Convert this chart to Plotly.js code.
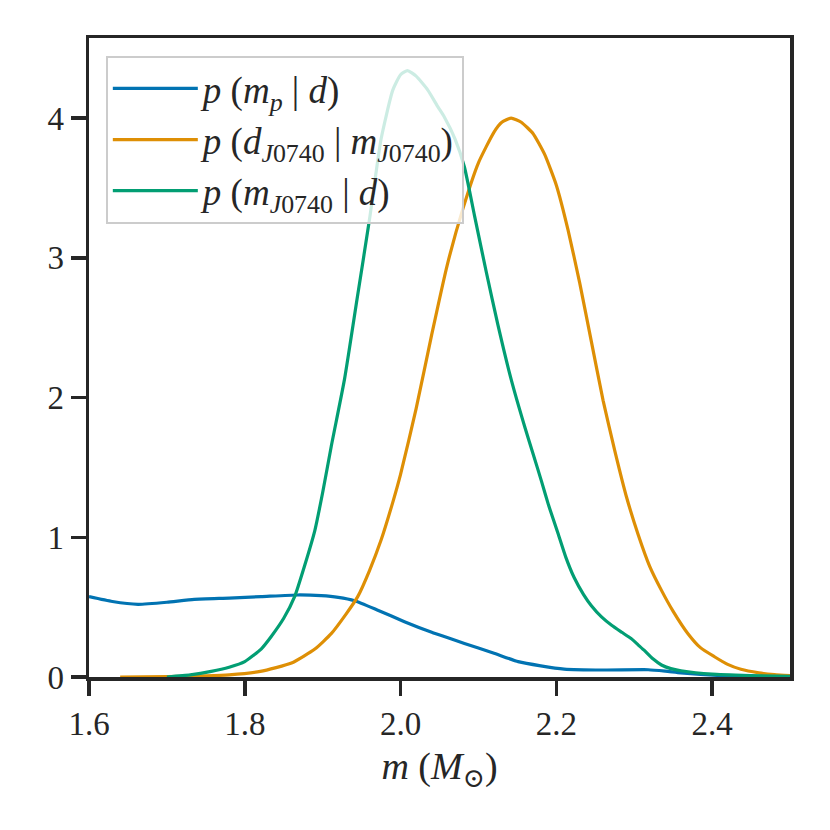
<!DOCTYPE html>
<html>
<head>
<meta charset="utf-8">
<script src="https://cdn.plot.ly/plotly-3.0.1.min.js"></script>
<style>
  body { margin: 0; background: #fff; }
  #plot { width: 830px; height: 830px; }
</style>
</head>
<body>
<div id="plot"></div>
<script>
// pulsar mass prior p(m_p | d)
var massPrior = [1.60, 1.63, 1.663, 1.70, 1.735, 1.78, 1.821, 1.868, 1.898, 1.92, 1.941, 1.97, 2.005, 2.04, 2.082, 2.12, 2.151, 2.18, 2.21, 2.26, 2.318, 2.34, 2.36, 2.41, 2.45, 2.50];
var densPrior = [0.575, 0.54, 0.52, 0.535, 0.556, 0.565, 0.575, 0.587, 0.582, 0.57, 0.546, 0.48, 0.396, 0.32, 0.24, 0.17, 0.11, 0.08, 0.057, 0.05, 0.052, 0.042, 0.03, 0.01, 0.003, 0.0];

// likelihood p(d_J0740 | m_J0740)
var massLike = [1.64, 1.70, 1.75, 1.78, 1.82, 1.86, 1.89, 1.911, 1.93, 1.945, 1.96, 1.975, 1.99, 2.0, 2.02, 2.04, 2.06, 2.08, 2.10, 2.12, 2.13, 2.142, 2.155, 2.17, 2.185, 2.2, 2.215, 2.23, 2.245, 2.26, 2.275, 2.29, 2.305, 2.32, 2.335, 2.35, 2.369, 2.385, 2.403, 2.42, 2.437, 2.46, 2.48, 2.50];
var densLike = [0.0, 0.002, 0.008, 0.015, 0.04, 0.1, 0.2, 0.31, 0.45, 0.575, 0.76, 0.98, 1.25, 1.45, 1.92, 2.45, 2.95, 3.35, 3.68, 3.9, 3.97, 4.0, 3.97, 3.89, 3.74, 3.52, 3.2, 2.82, 2.4, 1.98, 1.62, 1.29, 1.02, 0.79, 0.62, 0.47, 0.31, 0.21, 0.145, 0.09, 0.055, 0.03, 0.017, 0.01];

// posterior p(m_J0740 | d)
var massPost = [1.70, 1.73, 1.757, 1.78, 1.80, 1.821, 1.834, 1.85, 1.864, 1.877, 1.89, 1.90, 1.911, 1.928, 1.944, 1.96, 1.975, 1.99, 2.0, 2.009, 2.02, 2.035, 2.048, 2.056, 2.07, 2.082, 2.095, 2.11, 2.125, 2.142, 2.16, 2.17, 2.181, 2.19, 2.202, 2.212, 2.223, 2.235, 2.245, 2.258, 2.271, 2.284, 2.296, 2.305, 2.313, 2.324, 2.335, 2.347, 2.36, 2.40, 2.45, 2.50];
var densPost = [0.0, 0.015, 0.04, 0.07, 0.11, 0.2, 0.29, 0.42, 0.575, 0.8, 1.05, 1.32, 1.65, 2.13, 2.7, 3.27, 3.85, 4.2, 4.31, 4.34, 4.3, 4.2, 4.08, 4.01, 3.85, 3.65, 3.3, 2.9, 2.52, 2.13, 1.78, 1.6, 1.4, 1.23, 1.03, 0.86, 0.71, 0.59, 0.51, 0.43, 0.37, 0.32, 0.275, 0.23, 0.19, 0.13, 0.086, 0.06, 0.045, 0.02, 0.01, 0.004];

var xTicks = [1.6, 1.8, 2.0, 2.2, 2.4];
var yTicks = [0, 1, 2, 3, 4];

var names = [
  '<i>p</i> (<i>m</i><sub><i>p</i></sub> | <i>d</i>)',
  '<i>p</i> (<i>d</i><sub><i>J</i>0740</sub> | <i>m</i><sub><i>J</i>0740</sub>)',
  '<i>p</i> (<i>m</i><sub><i>J</i>0740</sub> | <i>d</i>)'
];
var colors = ['#0173b2', '#de8f05', '#029e73'];

var serif = 'Liberation Serif, DejaVu Serif, serif';
var ink = '#262626';

function curve(x, y, i) {
  return {
    x: x, y: y, name: names[i],
    mode: 'lines', type: 'scatter',
    line: {color: colors[i], width: 3.2, shape: 'spline', smoothing: 0.5},
    legendgroup: 'g' + i
  };
}

var data = [
  curve(massPrior, densPrior, 0),
  curve(massLike, densLike, 1),
  curve(massPost, densPost, 2)
];

var axisCommon = {
  showgrid: false, zeroline: false,
  showline: true, linecolor: ink, linewidth: 3.5, mirror: true,
  ticks: 'outside', ticklen: 15, tickwidth: 3.5, tickcolor: ink,
  tickfont: {family: serif, size: 33, color: ink}
};

var layout = {
  width: 830, height: 830,
  margin: {l: 89, r: 40, t: 38, b: 153},
  paper_bgcolor: '#fff', plot_bgcolor: '#fff',
  font: {family: serif, color: ink},
  xaxis: Object.assign({}, axisCommon, {
    range: [1.6, 2.5], tickvals: xTicks,
    ticktext: xTicks.map(function (v) { return v.toFixed(1); }),
    title: {text: '<i>m</i> (<i>M</i><sub>⊙</sub>)', font: {family: serif, size: 38, color: ink}, standoff: 12}
  }),
  yaxis: Object.assign({}, axisCommon, {
    range: [0, 4.573], tickvals: yTicks
  }),
  showlegend: true,
  legend: {
    x: 0.024, y: 0.972, xanchor: 'left', yanchor: 'top',
    bgcolor: 'rgba(255,255,255,0.8)', bordercolor: '#cccccc', borderwidth: 2,
    font: {family: serif, size: 37, color: ink},
    itemwidth: 85, traceorder: 'grouped', tracegroupgap: 0
  }
};

Plotly.newPlot('plot', data, layout, {staticPlot: true});
</script>
</body>
</html>
